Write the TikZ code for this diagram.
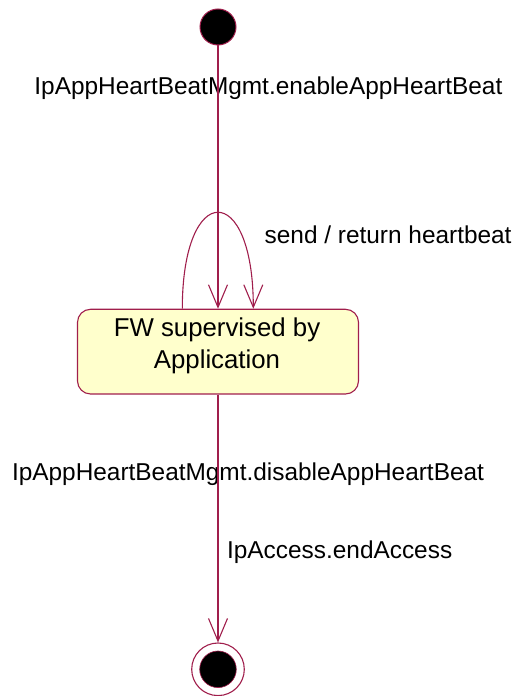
\documentclass[tikz,border=0pt]{standalone}
\usepackage{fontspec}
\setmainfont{Liberation Sans}
\usetikzlibrary{arrows.meta,calc,positioning}
\definecolor{srose}{HTML}{A01E4C}
\definecolor{sfill}{HTML}{FFFFCC}
\tikzset{
  >={Straight Barb[length=11.3pt,width=9.5pt]},
  sinit/.style={circle, draw=srose, fill=black, line width=0.5pt,
                minimum size=18pt, inner sep=0pt},
  sfinal/.style={circle, draw=srose, fill=white, line width=0.55pt,
                 minimum size=26.3pt, inner sep=0pt},
  sdot/.style={circle, draw=srose, fill=black, line width=0.3pt,
               minimum size=18.3pt, inner sep=0pt},
  sstate/.style={rounded corners=6.5pt, draw=srose, fill=sfill, line width=0.55pt,
                 minimum width=140.5pt, minimum height=42.35pt, inner sep=0pt},
  strans/.style={->, srose, line width=0.55pt},
  slbl/.style={font=\fontsize{12.2}{15.8}\selectfont, inner sep=0pt},
  sname/.style={font=\fontsize{12.9}{15.8}\selectfont, inner sep=0pt, align=center},
}
\begin{document}
\begin{tikzpicture}[x=0.5pt,y=0.5pt]
  \useasboundingbox (0,0) rectangle (515,696);

  % states
  \node[sinit]  (init) at (218,669) {};
  \node[sstate] (fw)   at (218,344.35) {};
  \node[sname]  (fwtxt) at (217,350.3) {FW supervised by\\Application};
  \node[sfinal] (fin)  at (218,26.7) {};
  \node[sdot]   (findot) at (fin) {};

  % transition labels
  \node[slbl, anchor=base] (enable) at (268.4,601.7)
    {IpAppHeartBeatMgmt.enableAppHeartBeat};
  \node[slbl, anchor=base west] (send) at (264.3,452.7)
    {send / return heartbeat};
  \node[slbl, anchor=base] (disable) at (248,215.3)
    {IpAppHeartBeatMgmt.disableAppHeartBeat};
  \node[slbl, anchor=base west] (endacc) at (226.7,137.7)
    {IpAccess.endAccess};

  % transitions
  \draw[strans] (init) -- (fw);
  \draw[strans] ($(fw.north)+(-35.7,0)$)
    .. controls ($(fw.north)+(-35.7,128.3)$) and ($(fw.north)+(35.3,128.3)$)
    .. ($(fw.north)+(35.3,0)$);
  \draw[strans] (fw) -- (fin);

\end{tikzpicture}
\end{document}
